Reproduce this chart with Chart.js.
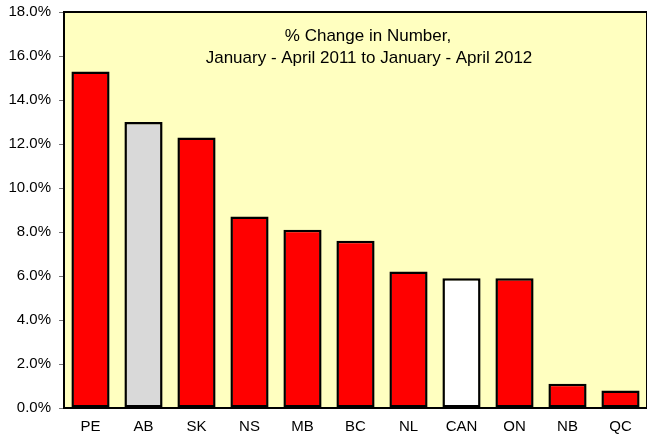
<!DOCTYPE html>
<html>
<head>
<meta charset="utf-8">
<script src="https://cdn.jsdelivr.net/npm/chart.js@4"></script>
<style>
  html, body { margin: 0; padding: 0; background: #fff; overflow: hidden; }
  canvas { display: block; }
</style>
</head>
<body>
<canvas id="chart" width="647" height="434"></canvas>
<script>
const provinces = ["PE", "AB", "SK", "NS", "MB", "BC", "NL", "CAN", "ON", "NB", "QC"];
const pctChange = [15.3, 13.0, 12.3, 8.7, 8.1, 7.6, 6.2, 5.9, 5.9, 1.1, 0.8];
const titleLines = ["% Change in Number,", "January - April 2011 to January - April 2012"];

const FONT = "'Liberation Sans', Arial, sans-serif";

// AB highlighted grey, Canada total in white, the rest red
const fills = provinces.map(p => p === "AB" ? "#d9d9d9" : p === "CAN" ? "#ffffff" : "#ff0000");

const plotBox = {
  id: "plotBox",
  beforeDraw(chart) {
    const { ctx, chartArea: a } = chart;
    ctx.save();
    ctx.fillStyle = "#ffffc0";
    ctx.fillRect(a.left, a.top, a.right - a.left, a.bottom - a.top);
    ctx.restore();
  },
  afterDraw(chart) {
    const { ctx, chartArea: a } = chart;
    ctx.save();
    ctx.strokeStyle = "#000";
    ctx.lineWidth = 2;
    ctx.beginPath();
    ctx.moveTo(a.left, a.bottom);
    ctx.lineTo(a.left, a.top);
    ctx.lineTo(a.right, a.top);
    ctx.lineTo(a.right, a.bottom);
    ctx.stroke();

    ctx.fillStyle = "#000";
    ctx.font = "17px " + FONT;
    ctx.textAlign = "center";
    ctx.textBaseline = "alphabetic";
    const cx = a.left + 304;
    ctx.fillText(titleLines[0], cx, a.top + 28.5);
    ctx.fillText(titleLines[1], cx + 1, a.top + 51);
    ctx.restore();
  }
};

new Chart(document.getElementById("chart"), {
  type: "bar",
  data: {
    labels: provinces,
    datasets: [{
      data: pctChange,
      backgroundColor: fills,
      borderColor: "#000",
      borderWidth: 2.5,
      borderSkipped: false,
      barPercentage: 0.72,
      categoryPercentage: 1
    }]
  },
  options: {
    responsive: false,
    animation: false,
    devicePixelRatio: 1,
    layout: { padding: { top: 12, right: 0, left: 0, bottom: 0 } },
    plugins: {
      legend: { display: false },
      title: { display: false },
      tooltip: { enabled: false }
    },
    scales: {
      x: {
        afterFit: s => { s.height = 26; s.paddingLeft = 0; s.paddingRight = 0; },
        grid: { display: false, drawTicks: false },
        border: { display: true, color: "#000", width: 2 },
        ticks: { color: "#000", font: { family: FONT, size: 15 }, padding: 10 }
      },
      y: {
        min: 0,
        max: 18,
        afterFit: s => { s.width = 64; s.paddingTop = 0; s.paddingBottom = 0; },
        grid: { drawOnChartArea: false, drawTicks: true, tickLength: 5, color: "#777" },
        border: { display: true, color: "#000", width: 2 },
        ticks: {
          stepSize: 2,
          color: "#000",
          padding: 8,
          font: { family: FONT, size: 15 },
          callback: v => v.toFixed(1) + "%"
        }
      }
    }
  },
  plugins: [plotBox]
});
</script>
</body>
</html>
